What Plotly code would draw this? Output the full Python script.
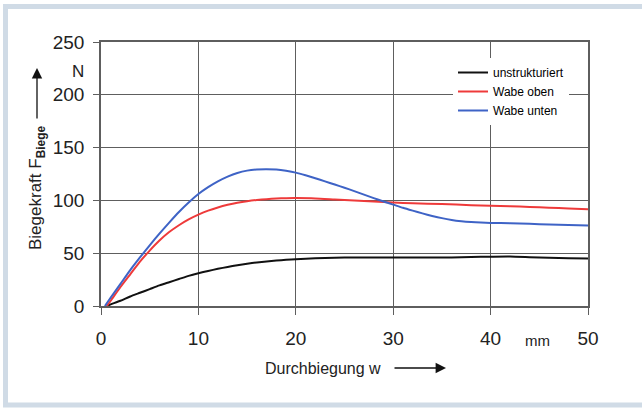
import plotly.graph_objects as go

# ---- data ----
w_unstr = [0.6, 1, 2, 3, 4, 5, 6, 7, 8, 9, 10, 11, 12, 13, 14, 15, 16, 17, 18, 19, 20,
           22, 24, 26, 28, 30, 32, 34, 36, 38, 40, 42, 44, 46, 48, 50]
f_unstr = [0, 1.5, 5, 9, 12.5, 16, 19.5, 22.5, 25.5, 28.5, 31, 33.2, 35.2, 37, 38.6, 40, 41.2, 42.2, 43, 43.7, 44.3,
           45.2, 45.8, 46, 46, 46, 46, 46, 46, 46.5, 46.7, 46.8, 46.2, 45.6, 45.2, 45]

w_oben = [0.6, 1, 2, 3, 4, 5, 6, 7, 8, 9, 10, 11, 12, 13, 14, 15, 16, 17, 18, 19, 20,
          22, 24, 26, 28, 30, 32, 35, 38, 40, 42, 44, 46, 48, 50]
f_oben = [0, 5, 18, 30, 42, 52.5, 62, 70, 76.5, 82, 86.5, 90.3, 93.3, 95.8, 97.8, 99.3, 100.4, 101.2, 101.8, 102.1, 102.2,
          101.9, 100.9, 99.9, 98.9, 98, 97.3, 96.5, 95.5, 94.9, 94.4, 93.8, 93.1, 92.4, 91.6]

w_unten = [0.4, 1, 2, 3, 4, 5, 6, 7, 8, 9, 10, 11, 12, 13, 14, 15, 16, 17, 18, 19, 20,
           21, 22, 23, 24, 25, 26, 27, 28, 29, 30, 31, 32, 33, 34, 35, 36, 37, 38, 39, 40,
           42, 44, 46, 48, 50]
f_unten = [0, 8, 21, 34, 46, 57.5, 68.5, 79, 89, 98, 106, 112.5, 118, 122.5, 126, 128.2, 129.3, 129.6, 129.2, 128, 126.3,
           123.8, 121, 118, 115, 112, 108.8, 105.5, 102.2, 99, 96, 93, 90.3, 87.7, 85.3, 83.2, 81.5, 80.3, 79.5, 79, 78.7,
           78.3, 77.8, 77.2, 76.6, 76.2]

x_ticks = [0, 10, 20, 30, 40, 50]
y_ticks = [0, 50, 100, 150, 200, 250]

names = ["unstrukturiert", "Wabe oben", "Wabe unten"]
colors = ["#111111", "#ee3a3a", "#3e63c6"]

FONT = "Liberation Sans, Arial, sans-serif"
GRID = "#5e5e5e"
TXT = "#222222"

fig = go.Figure()
for xs, ys, n, c in zip([w_unstr, w_oben, w_unten], [f_unstr, f_oben, f_unten], names, colors):
    fig.add_trace(go.Scatter(x=xs, y=ys, mode="lines", name=n,
                             line=dict(color=c, width=2, shape="spline", smoothing=0.6)))

L, R, T, B = 101, 54, 42, 103
W, H = 642, 409
pw, ph = W - L - R, H - T - B


def px(x):
    return (x - L) / pw


def py(y):
    return (H - B - y) / ph


fig.update_layout(
    width=W, height=H,
    margin=dict(l=L, r=R, t=T, b=B, autoexpand=False),
    paper_bgcolor="white", plot_bgcolor="white",
    font=dict(family=FONT, color=TXT),
    showlegend=True,
    legend=dict(x=px(453), y=py(58), xanchor="left", yanchor="top",
                bgcolor="white", borderwidth=0,
                font=dict(size=12, color="#000000", family=FONT),
                tracegroupgap=0),
    xaxis=dict(range=[0, 50], tickvals=x_ticks, ticktext=[str(v) for v in x_ticks],
               showgrid=True, gridcolor=GRID, gridwidth=1.3, automargin=False,
               showline=True, linecolor=GRID, linewidth=1.5, mirror=True,
               ticks="outside", ticklen=7, tickwidth=1.3, tickcolor=GRID,
               tickfont=dict(size=19, color=TXT, family=FONT),
               ticklabelstandoff=7, zeroline=False),
    yaxis=dict(range=[0, 250], tickvals=y_ticks, ticktext=[str(v) for v in y_ticks],
               showgrid=True, gridcolor=GRID, gridwidth=1.3, automargin=False,
               showline=True, linecolor=GRID, linewidth=1.5, mirror=True,
               ticks="outside", ticklen=6, tickwidth=1.3, tickcolor=GRID,
               tickfont=dict(size=19, color=TXT, family=FONT),
               ticklabelstandoff=5, zeroline=False),
)

# outer light frame
fig.add_shape(type="rect", xref="paper", yref="paper",
              x0=px(5.5), x1=px(660), y0=py(405), y1=py(6.5),
              line=dict(color="#d0dbe6", width=5), fillcolor="rgba(0,0,0,0)", layer="below")

C = dict(xanchor="center", yanchor="middle", showarrow=False, xref="paper", yref="paper")
# axis titles and unit labels
fig.add_annotation(x=px(37), y=py(188), text="Biegekraft F<sub><b>Biege</b></sub>", textangle=-90,
                   font=dict(size=17, color=TXT, family=FONT), **C)
fig.add_annotation(xref="paper", yref="paper", x=px(37), y=py(68), axref="pixel", ayref="pixel",
                   ax=0, ay=52, text="", showarrow=True,
                   arrowhead=2, arrowsize=1.6, arrowwidth=1.3, arrowcolor="#111111")
fig.add_annotation(x=px(78), y=py(71), text="N", font=dict(size=17, color=TXT, family=FONT), **C)
fig.add_annotation(x=px(323), y=py(368), text="Durchbiegung w",
                   font=dict(size=16, color=TXT, family=FONT), **C)
fig.add_annotation(xref="paper", yref="paper", x=px(446), y=py(368), axref="pixel", ayref="pixel",
                   ax=-53, ay=0, text="", showarrow=True,
                   arrowhead=2, arrowsize=1.6, arrowwidth=1.3, arrowcolor="#111111")
fig.add_annotation(x=px(537), y=py(340), text="mm", font=dict(size=15, color=TXT, family=FONT), **C)

fig.write_html("out.html", config={"displayModeBar": False},
               post_script="document.body.style.margin='0';document.body.style.overflow='hidden';")
